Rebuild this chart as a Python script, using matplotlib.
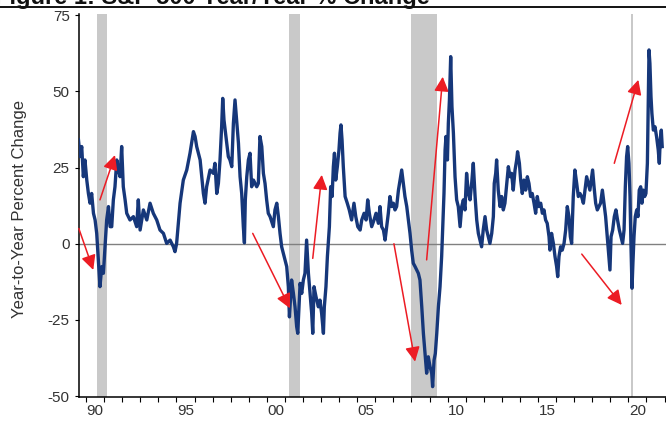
import matplotlib
matplotlib.use('Agg')
import matplotlib.pyplot as plt
from matplotlib.lines import Line2D

# Fonts
matplotlib.rcParams['font.family'] = ['Liberation Sans', 'DejaVu Sans']

######## DATA #########
# S&P 500, year-over-year percent change (decimal year, percent)
years = [
    1989.58, 1989.67, 1989.76, 1989.85, 1989.94, 1990.04, 1990.13, 1990.22, 1990.31, 1990.41,
    1990.50, 1990.59, 1990.68, 1990.77, 1990.87, 1990.96, 1991.05, 1991.14, 1991.24, 1991.33,
    1991.42, 1991.51, 1991.60, 1991.70, 1991.79, 1991.88, 1991.97, 1992.06, 1992.16, 1992.25,
    1992.43, 1992.62, 1992.80, 1992.89, 1992.99, 1993.17, 1993.36, 1993.54, 1993.72, 1993.91,
    1994.09, 1994.28, 1994.46, 1994.65, 1994.83, 1994.92, 1995.01, 1995.20, 1995.38, 1995.57,
    1995.75, 1995.94, 1996.03, 1996.12, 1996.31, 1996.49, 1996.58, 1996.67, 1996.86, 1997.04,
    1997.13, 1997.23, 1997.32, 1997.41, 1997.50, 1997.56, 1997.63, 1997.78, 1997.87, 1997.96,
    1998.06, 1998.15, 1998.24, 1998.33, 1998.43, 1998.52, 1998.61, 1998.70, 1998.76, 1998.81,
    1998.89, 1998.98, 1999.07, 1999.16, 1999.26, 1999.35, 1999.44, 1999.53, 1999.62, 1999.72,
    1999.81, 1999.90, 1999.99, 2000.08, 2000.18, 2000.36, 2000.45, 2000.55, 2000.64, 2000.73,
    2000.82, 2000.91, 2001.01, 2001.10, 2001.19, 2001.25, 2001.37, 2001.47, 2001.56, 2001.65,
    2001.71, 2001.84, 2001.93, 2002.02, 2002.11, 2002.20, 2002.30, 2002.39, 2002.48, 2002.54,
    2002.61, 2002.72, 2002.85, 2002.94, 2003.03, 2003.13, 2003.18, 2003.27, 2003.35, 2003.46,
    2003.53, 2003.61, 2003.68, 2003.74, 2003.81, 2003.90, 2003.99, 2004.05, 2004.10, 2004.16,
    2004.23, 2004.33, 2004.45, 2004.56, 2004.69, 2004.82, 2004.92, 2005.03, 2005.16, 2005.25,
    2005.38, 2005.49, 2005.58, 2005.67, 2005.80, 2005.93, 2006.04, 2006.17, 2006.26, 2006.35,
    2006.45, 2006.54, 2006.63, 2006.72, 2006.81, 2006.91, 2007.00, 2007.09, 2007.18, 2007.28,
    2007.37, 2007.46, 2007.55, 2007.64, 2007.74, 2007.83, 2007.92, 2008.01, 2008.10, 2008.20,
    2008.29, 2008.38, 2008.47, 2008.57, 2008.66, 2008.75, 2008.84, 2008.93, 2009.03, 2009.12,
    2009.17, 2009.25, 2009.32, 2009.40, 2009.49, 2009.58, 2009.67, 2009.73, 2009.80, 2009.86,
    2009.91, 2009.99, 2010.04, 2010.10, 2010.17, 2010.24, 2010.32, 2010.41, 2010.50, 2010.59,
    2010.69, 2010.78, 2010.87, 2010.96, 2011.05, 2011.15, 2011.24, 2011.33, 2011.42, 2011.52,
    2011.61, 2011.70, 2011.88, 2011.97, 2012.07, 2012.16, 2012.25, 2012.34, 2012.44, 2012.53,
    2012.58, 2012.66, 2012.71, 2012.80, 2012.90, 2012.99, 2013.08, 2013.17, 2013.27, 2013.36,
    2013.45, 2013.54, 2013.63, 2013.73, 2013.82, 2013.87, 2013.97, 2014.04, 2014.13, 2014.22,
    2014.32, 2014.41, 2014.50, 2014.59, 2014.68, 2014.78, 2014.87, 2014.96, 2015.05, 2015.15,
    2015.24, 2015.33, 2015.42, 2015.51, 2015.61, 2015.66, 2015.75, 2015.85, 2015.94, 2016.03,
    2016.09, 2016.16, 2016.25, 2016.34, 2016.44, 2016.53, 2016.62, 2016.71, 2016.79, 2016.86,
    2016.95, 2017.04, 2017.14, 2017.23, 2017.32, 2017.41, 2017.51, 2017.60, 2017.69, 2017.78,
    2017.87, 2017.97, 2018.02, 2018.10, 2018.19, 2018.28, 2018.37, 2018.46, 2018.56, 2018.65,
    2018.74, 2018.83, 2018.92, 2018.98, 2019.04, 2019.13, 2019.22, 2019.31, 2019.40, 2019.50,
    2019.59, 2019.68, 2019.76, 2019.83, 2019.90, 2019.96, 2020.03, 2020.09, 2020.14, 2020.20,
    2020.25, 2020.31, 2020.38, 2020.46, 2020.53, 2020.60, 2020.68, 2020.75, 2020.82, 2020.90,
    2020.97, 2021.05, 2021.10, 2021.14, 2021.19, 2021.25, 2021.30, 2021.38, 2021.47, 2021.56,
    2021.65, 2021.71, 2021.76, 2021.82, 2021.87,
]
pct_change = [
    34.1, 28.6, 31.9, 22.0, 27.5, 20.9, 16.5, 13.3, 16.5, 10.0,
    7.8, 3.4, -5.3, -14.1, -7.5, -9.7, -1.0, 7.8, 12.2, 5.6,
    5.6, 14.4, 18.7, 27.5, 24.2, 22.0, 31.9, 18.7, 14.4, 10.0,
    7.8, 8.9, 5.6, 14.4, 4.5, 11.1, 7.8, 13.3, 10.0, 7.8,
    4.5, 3.4, 0.1, 1.2, -1.0, -2.6, 0.1, 13.3, 20.9, 24.2,
    29.7, 36.8, 35.2, 31.9, 27.5, 16.5, 13.3, 18.7, 24.2, 23.1,
    26.4, 16.5, 19.8, 27.5, 38.4, 47.7, 40.6, 33.0, 28.6, 27.5,
    25.3, 39.5, 47.2, 40.6, 33.0, 22.0, 16.5, 5.6, 0.3, 14.4,
    22.0, 27.5, 29.7, 18.7, 20.9, 19.8, 18.7, 19.8, 35.2, 31.9,
    23.1, 19.8, 14.4, 10.0, 8.9, 5.6, 11.1, 13.3, 8.9, 3.4,
    -1.0, -3.1, -5.3, -7.5, -14.1, -24.0, -11.9, -16.3, -20.7, -27.2,
    -29.4, -13.0, -16.3, -11.9, -9.7, 1.2, -9.7, -16.3, -22.8, -29.4,
    -14.1, -17.4, -20.7, -18.5, -22.8, -29.4, -20.7, -14.1, -4.2, 5.6,
    18.7, 15.5, 25.3, 29.7, 20.9, 25.3, 30.8, 36.3, 39.0, 34.1,
    25.3, 15.5, 13.3, 11.1, 7.8, 13.3, 8.9, 5.6, 4.5, 7.8,
    10.0, 7.8, 14.4, 10.0, 5.6, 7.8, 10.0, 6.7, 12.2, 5.6,
    4.5, 1.2, 5.6, 10.0, 15.5, 12.2, 13.3, 11.1, 12.2, 17.6,
    20.9, 24.2, 19.8, 15.5, 12.2, 7.8, 3.4, -2.1, -6.4, -7.5,
    -8.6, -9.7, -11.9, -20.7, -29.4, -36.0, -42.5, -37.1, -40.4, -42.5,
    -46.9, -38.2, -36.0, -29.4, -20.7, -14.1, -4.2, 5.6, 16.6, 30.8,
    35.2, 27.5, 39.5, 47.2, 61.4, 45.0, 36.3, 22.0, 14.4, 12.2,
    5.6, 12.2, 14.4, 11.1, 23.1, 16.6, 14.4, 19.8, 26.4, 15.5,
    7.8, 3.4, -1.0, 4.5, 8.9, 4.5, 2.3, 0.1, 3.4, 8.9,
    19.8, 23.1, 27.5, 17.6, 12.2, 15.5, 11.1, 13.3, 19.8, 25.3,
    22.0, 23.1, 17.6, 24.2, 27.5, 30.2, 26.4, 20.9, 16.5, 20.9,
    17.6, 22.0, 19.8, 15.5, 16.5, 13.3, 10.0, 15.5, 12.2, 13.3,
    10.0, 11.1, 7.8, 6.7, 2.3, -2.1, 3.4, 0.1, -4.2, -7.5,
    -10.8, -4.2, -1.0, -2.1, 0.1, 4.5, 12.2, 8.9, 2.3, 0.1,
    15.5, 24.2, 19.8, 15.5, 16.5, 15.5, 13.3, 17.6, 22.0, 19.8,
    17.6, 22.0, 24.2, 18.7, 13.3, 11.1, 12.2, 13.3, 17.6, 13.3,
    8.9, 2.3, -4.2, -8.6, 2.3, 4.5, 8.9, 11.1, 7.8, 4.5,
    2.3, 0.1, 4.5, 18.7, 28.6, 31.9, 26.4, 15.5, 0.1, -14.6,
    -6.4, 2.3, 8.9, 11.1, 8.9, 17.6, 18.7, 13.3, 17.6, 15.5,
    16.5, 26.4, 48.3, 63.6, 59.2, 48.3, 42.8, 37.3, 38.4, 35.1,
    30.8, 26.4, 34.0, 37.3, 31.9,
]

# Recessions (start, end in decimal years)
rec_start = [1990.59, 2001.22, 2008.00, 2020.15]
rec_end = [1991.15, 2001.85, 2009.40, 2020.26]

# Red trend arrows: tail -> head
arrow_x0 = [1989.60, 1990.77, 1999.22, 2002.54, 2007.03, 2008.84, 2017.42, 2019.22]
arrow_y0 = [5.0, 14.4, 3.4, -4.8, 0.0, -5.3, -3.4, 26.4]
arrow_x1 = [1990.40, 1991.60, 2001.28, 2003.04, 2008.20, 2009.73, 2019.63, 2020.55]
arrow_y1 = [-8.6, 29.1, -21.2, 22.6, -38.7, 54.8, -20.1, 53.8]

yticks = [-50, -25, 0, 25, 50, 75]
xlabel_years = [1990, 1995, 2000, 2005, 2010, 2015, 2020]
xlabels = ['90', '95', '00', '05', '10', '15', '20']
######################

NAVY = '#16377a'
RED = '#ec1c24'
TXT = '#333333'

fig = plt.figure(figsize=(6.66, 4.21), dpi=100)
ax = fig.add_axes([79/666, 1 - 397/421, 587/666, 383/421])

# Title strip at the very top, mostly cut off
fig.text(-0.008, 1 - 4/421, 'Figure 1: S&P 500 Year/Year % Change', fontsize=17,
         fontweight='bold', color='#111111', va='baseline', ha='left')
fig.add_artist(Line2D([0, 1], [1 - 7/421, 1 - 7/421], transform=fig.transFigure,
                      color='black', lw=1.3))

for s, e in zip(rec_start, rec_end):
    ax.axvspan(s, e, color='#c9c9c9', lw=0, zorder=0)

ax.axhline(0, color='#808080', lw=1.0, zorder=1)
ax.plot(years, pct_change, color=NAVY, lw=2.4, zorder=3, solid_joinstyle='round')

for x0, y0, x1, y1 in zip(arrow_x0, arrow_y0, arrow_x1, arrow_y1):
    ax.annotate('', xy=(x1, y1), xytext=(x0, y0),
                arrowprops=dict(arrowstyle='-|>', color=RED, lw=1.1,
                                mutation_scale=22, shrinkA=0, shrinkB=0),
                zorder=4)

ax.set_xlim(1989.61, 2022.08)
ax.set_ylim(-50.3, 75.4)

for side in ['top', 'right']:
    ax.spines[side].set_visible(False)
for side in ['left', 'bottom']:
    ax.spines[side].set_linewidth(1.1)

ax.set_yticks(yticks)
ax.set_yticklabels([str(v) for v in yticks])
ax.tick_params(axis='y', direction='out', length=3.2, width=0.8, pad=3.5,
               labelsize=11, labelcolor=TXT)

# yearly ticks, labels centred in the year
ax.set_xticks(range(1990, 2023))
ax.set_xticklabels([])
ax.set_xticks([y + 0.5 for y in xlabel_years], minor=True)
ax.set_xticklabels(xlabels, minor=True)
ax.tick_params(axis='x', which='major', direction='out', length=3.5, width=0.8)
ax.tick_params(axis='x', which='minor', length=0, pad=5, labelsize=11, labelcolor=TXT)

ax.set_ylabel('Year-to-Year Percent Change', fontsize=12, color=TXT)
ax.yaxis.set_label_coords(-0.089, 0.492)

fig.savefig('out.png', dpi=100)
